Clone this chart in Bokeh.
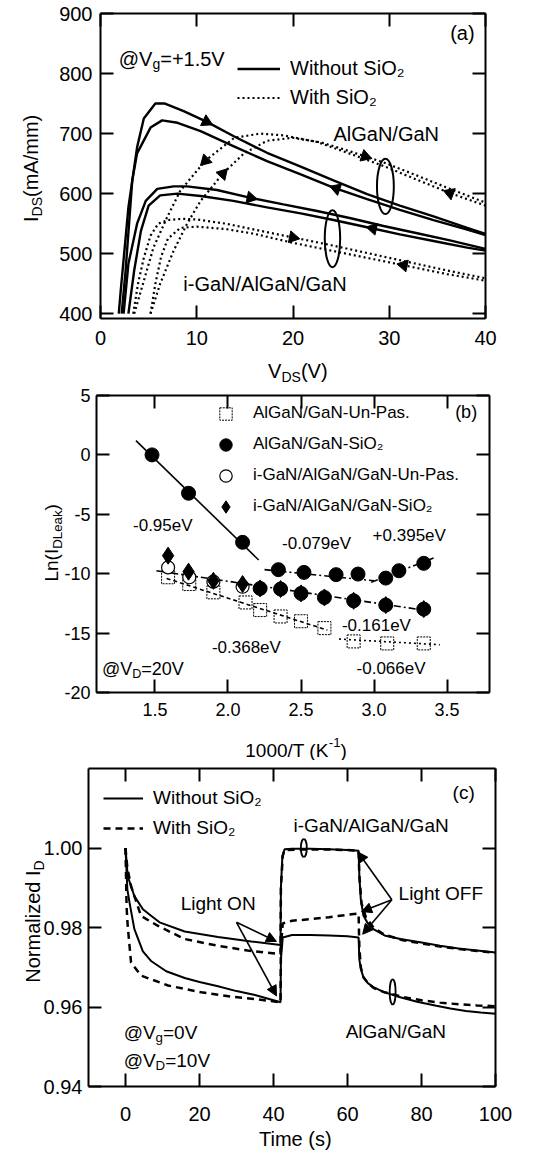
import numpy as np
from bokeh.plotting import figure
from bokeh.layouts import column
from bokeh.models import (Range1d, LinearAxis, FixedTicker, Label, Legend, LegendItem,
                          Arrow, NormalHead, CustomJSTickFormatter, NumeralTickFormatter,
                          ColumnDataSource)
from bokeh.embed import file_html
from bokeh.resources import INLINE

FONT = "Liberation Sans"

# ---------------- data: panel (a) I-V curves ----------------
vds_algan_wo_up = [1.9, 2.1, 2.9, 3.8, 4.5, 5.7, 6.7, 8.7, 11.1, 13.8, 17.3, 20.8, 24.2, 27.7, 31.1, 34.6, 38.1, 40.0]
ids_algan_wo_up = [400, 438, 577, 677, 725, 750, 750, 737, 719, 696, 668, 645, 622, 599, 580, 562, 543, 533]
vds_algan_wo_dn = [2.2, 2.6, 3.3, 3.8, 5.2, 6.4, 8.0, 10.4, 13.8, 17.3, 20.8, 24.2, 27.7, 31.1, 34.6, 38.1, 40.0]
ids_algan_wo_dn = [400, 470, 622, 667, 710, 722, 718, 704, 679, 654, 632, 610, 591, 573, 556, 540, 531]
vds_igan_wo_up = [2.4, 2.9, 3.8, 4.7, 5.9, 7.6, 9.0, 12.1, 15.6, 19.0, 22.5, 26.0, 29.4, 32.9, 36.3, 40.0]
ids_igan_wo_up = [400, 483, 550, 588, 608, 612, 612, 606, 593, 582, 571, 559, 546, 534, 522, 508]
vds_igan_wo_dn = [2.9, 3.5, 4.2, 5.0, 6.2, 8.0, 10.4, 13.8, 17.3, 20.8, 24.2, 27.7, 31.1, 34.6, 38.1, 40.0]
ids_igan_wo_dn = [400, 472, 538, 580, 597, 600, 596, 588, 577, 567, 556, 544, 532, 521, 510, 505]
vds_algan_w_fw = [5.2, 6.2, 7.6, 9.0, 10.4, 12.7, 14.9, 17.3, 20.0, 23.0, 26.0, 29.4, 32.9, 36.3, 40.0]
ids_algan_w_fw = [400, 450, 505, 550, 588, 633, 667, 688, 693, 685, 670, 652, 630, 608, 585]
vds_algan_w_rv = [3.5, 4.2, 5.5, 6.9, 8.3, 10.9, 13.9, 16.6, 19.0, 22.5, 26.0, 29.4, 32.9, 36.3, 40.0]
ids_algan_w_rv = [400, 438, 510, 560, 605, 655, 693, 700, 697, 686, 666, 646, 623, 601, 580]
vds_igan_w_up = [3.4, 3.9, 4.5, 5.2, 6.0, 7.0, 8.5, 10.0, 13.0, 16.0, 20.0, 24.0, 28.0, 32.0, 36.0, 40.0]
ids_igan_w_up = [400, 450, 493, 530, 550, 556, 558, 557, 550, 540, 527, 514, 500, 486, 472, 459]
vds_igan_w_dn = [5.2, 5.7, 6.3, 7.0, 8.3, 10.0, 13.0, 16.0, 20.0, 24.0, 28.0, 32.0, 36.0, 40.0]
ids_igan_w_dn = [400, 450, 495, 525, 543, 545, 541, 533, 518, 505, 492, 479, 466, 455]

# sweep-direction arrows on the curves (curve name, V_DS position, direction)
arrow_a_curve = ["algan_wo_up", "algan_wo_dn", "igan_wo_up", "igan_wo_dn", "algan_w_fw",
                 "algan_w_fw", "algan_w_rv", "algan_w_rv", "igan_w_up", "igan_w_dn"]
arrow_a_vds = [11.0, 24.5, 15.6, 28.3, 12.7, 27.5, 36.3, 10.9, 20.0, 31.5]
arrow_a_dir = [1, -1, 1, -1, 1, 1, -1, -1, 1, -1]
ell_a_x = [29.6, 24.1]
ell_a_y = [612, 525]
ell_a_w = [1.75, 1.6]
ell_a_h = [92, 95]

# ---------------- data: panel (b) Arrhenius ----------------
invT_algan_unpas = [1.59, 1.735, 1.90, 2.12, 2.22, 2.36, 2.50, 2.66, 2.86, 3.09, 3.34]
ln_algan_unpas = [-10.3, -10.87, -11.57, -12.42, -13.06, -13.6, -14.0, -14.58, -15.7, -15.87, -15.87]
invT_algan_sio2 = [1.48, 1.73, 2.10, 2.345, 2.52, 2.74, 2.89, 3.08, 3.17, 3.34]
ln_algan_sio2 = [0.0, -3.23, -7.36, -9.66, -9.89, -10.08, -10.03, -10.37, -9.75, -9.13]
invT_igan_unpas = [1.59, 1.735, 1.90, 2.10]
ln_igan_unpas = [-9.47, -10.3, -10.67, -11.1]
invT_igan_sio2 = [1.59, 1.73, 1.90, 2.10, 2.22, 2.36, 2.50, 2.66, 2.86, 3.08, 3.34]
ln_igan_sio2 = [-8.48, -9.83, -10.6, -10.87, -11.24, -11.29, -11.66, -12.0, -12.28, -12.64, -12.98]

fit_labels = ["-0.95eV", "-0.079eV", "+0.395eV", "-0.161eV", "-0.368eV", "-0.066eV"]
fit_x0 = [1.37, 2.25, 2.98, 1.51, 1.58, 2.76]
fit_x1 = [2.21, 3.00, 3.42, 3.37, 2.68, 3.45]
fit_y0 = [1.2, -9.66, -10.73, -9.75, -10.4, -15.5]
fit_y1 = [-8.85, -10.6, -8.62, -13.12, -14.75, -15.98]

# ---------------- data: panel (c) transients ----------------
t_igan_wo = [0, 0.6, 2.4, 4.7, 7.0, 9.2, 16, 25, 34, 41.9, 42.0, 42.4, 43, 45, 50, 55, 60, 63.0,
             63.2, 63.6, 64.3, 65.5, 67, 70, 74.3, 80, 85, 90, 95, 100]
n_igan_wo = [1.000, 0.9929, 0.9879, 0.9846, 0.9829, 0.9813, 0.9790, 0.9776, 0.9765, 0.9756,
             0.9900, 0.9980, 0.9997, 0.9998, 0.9998, 0.9997, 0.9995, 0.9993,
             0.9930, 0.9870, 0.9830, 0.9810, 0.9796, 0.9780, 0.9771, 0.9762, 0.9754, 0.9747, 0.9742, 0.9737]
t_algan_wo = [0, 0.5, 1.1, 2.4, 4.7, 7.0, 11, 16, 20, 25, 30, 35, 41.9, 42.0, 42.5, 45, 50, 55, 60, 63.0,
              63.2, 63.6, 64.3, 65.5, 67, 69.7, 74, 78.8, 84, 87.8, 92, 96, 100]
n_algan_wo = [1.000, 0.9896, 0.9862, 0.9796, 0.9740, 0.9715, 0.9690, 0.9673, 0.9663, 0.9652,
              0.9640, 0.9630, 0.9612, 0.9720, 0.9775, 0.9781, 0.9781, 0.9780, 0.9778, 0.9775,
              0.9720, 0.9696, 0.9675, 0.9660, 0.9650, 0.9638, 0.9625, 0.9613, 0.9603, 0.9596,
              0.9590, 0.9586, 0.9583]
t_igan_w = [0, 0.5, 1.5, 4.2, 8.8, 16, 25, 33, 41.9, 42.0, 42.5, 43, 48, 55, 60, 63.0,
            63.2, 63.8, 65, 67, 70, 75, 80, 85, 90, 95, 100]
n_igan_w = [1.000, 0.9950, 0.9904, 0.9829, 0.9804, 0.9771, 0.9754, 0.9742, 0.9733,
            0.9900, 0.9980, 0.9995, 0.9996, 0.9996, 0.9995, 0.9993,
            0.9930, 0.9860, 0.9825, 0.9800, 0.9782, 0.9768, 0.9760, 0.9752, 0.9746, 0.9741, 0.9736]
t_algan_w = [0, 0.3, 0.6, 1.5, 4.2, 11.5, 20.5, 29.5, 35, 41.9, 42.0, 42.5, 45, 50, 55, 60, 63.0,
             63.2, 63.6, 64.3, 65.5, 67, 70, 75, 80, 85, 90, 95, 100]
n_algan_w = [1.000, 0.9850, 0.9804, 0.9712, 0.9679, 0.9654, 0.9637, 0.9625, 0.9620, 0.9612,
             0.9750, 0.9810, 0.9817, 0.9821, 0.9826, 0.9832, 0.9835,
             0.9750, 0.9700, 0.9675, 0.9660, 0.9648, 0.9637, 0.9625, 0.9617, 0.9611, 0.9607, 0.9604, 0.9602]

light_on_x0 = [30.0, 30.0]
light_on_y0 = [0.9813, 0.9813]
light_on_x1 = [40.8, 40.8]
light_on_y1 = [0.9765, 0.9628]
light_off_x0 = [72.0, 72.0, 72.0]
light_off_y0 = [0.987, 0.987, 0.987]
light_off_x1 = [62.8, 63.8, 64.1]
light_off_y1 = [0.999, 0.984, 0.9783]
ell_c_x = [48.2, 72.2]
ell_c_y = [1.0, 0.9638]
ell_c_w = [1.6, 1.6]
ell_c_h = [0.0045, 0.0063]

# ---------------- helpers ----------------
AW = {' ': 0.278, '(': 0.333, ')': 0.333, '+': 0.584, ',': 0.278, '-': 0.333, '.': 0.278, '/': 0.278,
      '=': 0.584, '@': 1.015, 'A': 0.667, 'D': 0.722, 'G': 0.778, 'I': 0.278, 'K': 0.667, 'L': 0.556,
      'N': 0.722, 'O': 0.778, 'S': 0.667, 'T': 0.611, 'V': 0.667, 'W': 0.944, 'a': 0.556, 'd': 0.556,
      'e': 0.556, 'g': 0.556, 'h': 0.556, 'i': 0.222, 'k': 0.5, 'l': 0.222, 'm': 0.833, 'n': 0.556,
      'o': 0.556, 'r': 0.333, 's': 0.5, 't': 0.278, 'u': 0.556, 'z': 0.5}


def tw(s, size):
    return sum(AW.get(c, 0.556) for c in s) * size


def rich(p, x, y, parts, size, align="left", vertical=False):
    small = size * 0.7
    widths = [tw(t, size if m == "n" else small) for t, m in parts]
    total = sum(widths)
    off = {"left": 0.0, "center": -total / 2.0, "right": -total}[align]
    for (t, m), w in zip(parts, widths):
        fs = size if m == "n" else small
        shift = {"n": 0.0, "sub": -0.28 * size, "sup": 0.42 * size}[m]
        if vertical:
            xo, yo, ang = -shift, off, np.pi / 2
        else:
            xo, yo, ang = off, shift, 0.0
        p.add_layout(Label(x=x, y=y, x_offset=xo, y_offset=yo, text=t, angle=ang,
                           text_font=FONT, text_font_size=f"{fs:.1f}px",
                           text_baseline="alphabetic", text_align="left", text_color="black"))
        off += w


def txt(p, x, y, s, size, align="left", baseline="middle"):
    p.add_layout(Label(x=x, y=y, text=s, text_font=FONT, text_font_size=f"{size}px",
                       text_align=align, text_baseline=baseline, text_color="black"))


def make_fig(height, xbox, ybox, pxbox, pybox):
    """Frame fills the whole canvas; the plot box (xbox, ybox) sits at pixel
    columns pxbox and pixel rows pybox (from the top); axes are drawn at the box edges."""
    x0, x1 = xbox
    ytop, ybot = ybox
    px0, px1 = pxbox
    pyt, pyb = pybox
    sx = (x1 - x0) / (px1 - px0)
    sy = (ytop - ybot) / (pyb - pyt)
    xr = (x0 - px0 * sx, x1 + (539 - px1) * sx)
    yr = (ybot - (height - pyb) * sy, ytop + pyt * sy)
    p = figure(width=539, height=height, x_range=Range1d(*xr), y_range=Range1d(*yr),
               output_backend="svg", toolbar_location=None,
               x_axis_location=None, y_axis_location=None,
               min_border_left=0, min_border_right=0, min_border_top=0, min_border_bottom=0)
    p.title.visible = False
    p.grid.visible = False
    p.outline_line_color = None
    p.background_fill_color = None
    p.border_fill_color = None
    return p


def style_axes(p, xbox, ybox, xticks, yticks, xfmt, yfmt, fs, xstand, ystand):
    x0, x1 = xbox
    ytop, ybot = ybox
    bx = LinearAxis(fixed_location=ybot, bounds=(x0, x1))
    tx = LinearAxis(fixed_location=ytop, bounds=(x0, x1))
    ly = LinearAxis(fixed_location=x0, bounds=(ybot, ytop))
    ry = LinearAxis(fixed_location=x1, bounds=(ybot, ytop))
    p.add_layout(bx, "below")
    p.add_layout(tx, "above")
    p.add_layout(ly, "left")
    p.add_layout(ry, "right")
    for ax, ticks in ((bx, xticks), (tx, xticks), (ly, yticks), (ry, yticks)):
        ax.ticker = FixedTicker(ticks=ticks)
        ax.major_tick_in = 13
        ax.major_tick_out = 0
        ax.minor_tick_in = 0
        ax.minor_tick_out = 0
        ax.axis_line_width = 2
        ax.major_tick_line_width = 2
        ax.axis_line_color = "black"
        ax.major_tick_line_color = "black"
    for ax in (tx, ry):
        ax.formatter = CustomJSTickFormatter(code="return ''")
        ax.major_label_text_font_size = "1px"
        ax.major_label_standoff = 0
    bx.formatter = xfmt
    ly.formatter = yfmt
    for ax, st in ((bx, xstand), (ly, ystand)):
        ax.major_label_text_font = FONT
        ax.major_label_text_font_size = f"{fs}px"
        ax.major_label_text_color = "black"
        ax.major_label_standoff = st


# ================= panel (a) =================  canvas rows 0..385
HA = 385
xbox_a, ybox_a = (0, 40), (900, 392)
pa = make_fig(HA, xbox_a, ybox_a, (100, 485), (13, 318))
style_axes(pa, xbox_a, ybox_a, [0, 10, 20, 30, 40], [400, 500, 600, 700, 800, 900],
           NumeralTickFormatter(format="0"), NumeralTickFormatter(format="0"), 20, 12, 8)

curves_a = {
    "algan_wo_up": (vds_algan_wo_up, ids_algan_wo_up),
    "algan_wo_dn": (vds_algan_wo_dn, ids_algan_wo_dn),
    "igan_wo_up": (vds_igan_wo_up, ids_igan_wo_up),
    "igan_wo_dn": (vds_igan_wo_dn, ids_igan_wo_dn),
    "algan_w_fw": (vds_algan_w_fw, ids_algan_w_fw),
    "algan_w_rv": (vds_algan_w_rv, ids_algan_w_rv),
    "igan_w_up": (vds_igan_w_up, ids_igan_w_up),
    "igan_w_dn": (vds_igan_w_dn, ids_igan_w_dn),
}
rend_a = {}
for name, (xv, yv) in curves_a.items():
    if "_wo_" in name:
        rend_a[name] = pa.line(xv, yv, line_color="black", line_width=2.4)
    else:
        rend_a[name] = pa.line(xv, yv, line_color="black", line_width=2.2, line_dash="2 3")

ppx = 385.0 / 40.0
ppy = 305.0 / 508.0
ax_, ay_, aang = [], [], []
for name, xv, d in zip(arrow_a_curve, arrow_a_vds, arrow_a_dir):
    cx, cy = curves_a[name]
    yv = float(np.interp(xv, cx, cy))
    dy = float(np.interp(xv + 0.5, cx, cy) - np.interp(xv - 0.5, cx, cy))
    theta = np.arctan2(d * dy * ppy, d * 1.0 * ppx)
    ax_.append(xv)
    ay_.append(yv)
    aang.append(theta - np.pi / 2)
pa.scatter(ax_, ay_, marker="triangle", size=12, angle=aang, fill_color="black", line_color="black")
pa.ellipse(x=ell_a_x, y=ell_a_y, width=ell_a_w, height=ell_a_h, fill_color=None,
           line_color="black", line_width=2)

leg_a = Legend(items=[LegendItem(label="Without SiO₂", renderers=[rend_a["algan_wo_up"]]),
                      LegendItem(label="With SiO₂", renderers=[rend_a["algan_w_fw"]])],
               location=(237, HA - 111.5), orientation="vertical", padding=0, margin=0, spacing=0,
               glyph_width=43, glyph_height=29, label_height=29, label_standoff=10,
               border_line_color=None, background_fill_alpha=0,
               label_text_font=FONT, label_text_font_size="20px", label_text_color="black")
pa.add_layout(leg_a)

rich(pa, 1.9, 825, [("@V", "n"), ("g", "sub"), ("=+1.5V", "n")], 20)
txt(pa, 37.6, 867, "(a)", 20, align="center")
txt(pa, 24.2, 699, "AlGaN/GaN", 20)
txt(pa, 8.6, 449, "i-GaN/AlGaN/GaN", 20)
rich(pa, -7.2, 642, [("I", "n"), ("DS", "sub"), ("(mA/mm)", "n")], 20, align="center", vertical=True)
rich(pa, 20.5, 304, [("V", "n"), ("DS", "sub"), ("(V)", "n")], 20, align="center")

# ================= panel (b) =================  canvas rows 385..760
HB = 375
xbox_b, ybox_b = (1.1, 3.79), (5, -20)
pb = make_fig(HB, xbox_b, ybox_b, (96, 489), (10, 307))
style_axes(pb, xbox_b, ybox_b, [1.5, 2.0, 2.5, 3.0, 3.5], [-20, -15, -10, -5, 0, 5],
           NumeralTickFormatter(format="0.0"), NumeralTickFormatter(format="0"), 18, 10, 6)

fit_dash = ["solid", "7 3 2 3", "7 3 2 3", "7 3 2 3", "4 3", "2 3"]
r_sq = pb.scatter(invT_algan_unpas, ln_algan_unpas, marker="square", size=13,
                  fill_color=None, line_color="black", line_width=1, line_dash="2 1")
for x0, x1, y0, y1, dsh in zip(fit_x0, fit_x1, fit_y0, fit_y1, fit_dash):
    pb.line([x0, x1], [y0, y1], line_color="black", line_width=1.6, line_dash=dsh)
r_oc = pb.scatter(invT_igan_unpas, ln_igan_unpas, marker="circle", size=13,
                  fill_color="white", line_color="black", line_width=1.2)
r_dm = pb.scatter(invT_igan_sio2, ln_igan_sio2, marker="diamond", size=17,
                  fill_color="black", line_color="black")
low_x = [x for x in invT_igan_sio2 if x > 2.15]
low_y = [y for x, y in zip(invT_igan_sio2, ln_igan_sio2) if x > 2.15]
pb.scatter(low_x, low_y, marker="circle", size=14, fill_color="black", line_color="black")
r_fc = pb.scatter(invT_algan_sio2, ln_algan_sio2, marker="circle", size=14,
                  fill_color="black", line_color="black")

leg_b = Legend(items=[LegendItem(label="AlGaN/GaN-Un-Pas.", renderers=[r_sq]),
                      LegendItem(label="AlGaN/GaN-SiO₂", renderers=[r_fc]),
                      LegendItem(label="i-GaN/AlGaN/GaN-Un-Pas.", renderers=[r_oc]),
                      LegendItem(label="i-GaN/AlGaN/GaN-SiO₂", renderers=[r_dm])],
               location=(210, 760 - 521.5), orientation="vertical", padding=0, margin=0, spacing=-4,
               glyph_width=31, glyph_height=31, label_height=31, label_standoff=12,
               border_line_color=None, background_fill_alpha=0,
               label_text_font=FONT, label_text_font_size="17px", label_text_color="black")
pb.add_layout(leg_b)

fit_lab_x = [1.35, 2.37, 2.99, 2.78, 1.89, 2.88]
fit_lab_y = [-5.94, -7.46, -6.8, -14.4, -16.2, -18.0]
for s, lx, ly in zip(fit_labels, fit_lab_x, fit_lab_y):
    txt(pb, lx, ly, s, 17)
rich(pb, 1.137, -18.0, [("@V", "n"), ("D", "sub"), ("=20V", "n")], 18)
txt(pb, 3.63, 3.57, "(b)", 18, align="center")
rich(pb, 0.795, -7.4, [("Ln(I", "n"), ("DLeak", "sub"), (")", "n")], 19, align="center", vertical=True)
rich(pb, 2.466, -24.85, [("1000/T (K", "n"), ("-1", "sup"), (")", "n")], 19, align="center")

# ================= panel (c) =================  canvas rows 760..1153
HC = 393
xbox_c, ybox_c = (-10, 100), (1.02, 0.94)
pc = make_fig(HC, xbox_c, ybox_c, (88, 495), (8, 326))
style_axes(pc, xbox_c, ybox_c, [0, 20, 40, 60, 80, 100], [0.94, 0.96, 0.98, 1.00],
           NumeralTickFormatter(format="0"), NumeralTickFormatter(format="0.00"), 20, 20, 6)

r_c_wo = pc.line(t_igan_wo, n_igan_wo, line_color="black", line_width=2)
pc.line(t_algan_wo, n_algan_wo, line_color="black", line_width=2)
r_c_w = pc.line(t_igan_w, n_igan_w, line_color="black", line_width=2.5, line_dash="7 5")
pc.line(t_algan_w, n_algan_w, line_color="black", line_width=2.5, line_dash="7 5")
pc.ellipse(x=ell_c_x, y=ell_c_y, width=ell_c_w, height=ell_c_h, fill_color=None,
           line_color="black", line_width=1.8)

src_on = ColumnDataSource(dict(x0=light_on_x0, y0=light_on_y0, x1=light_on_x1, y1=light_on_y1))
src_off = ColumnDataSource(dict(x0=light_off_x0, y0=light_off_y0, x1=light_off_x1, y1=light_off_y1))
for src in (src_on, src_off):
    pc.add_layout(Arrow(source=src, x_start="x0", y_start="y0", x_end="x1", y_end="y1",
                        line_color="black", line_width=1.6,
                        end=NormalHead(size=10, fill_color="black", line_color="black")))

leg_c = Legend(items=[LegendItem(label="Without SiO₂", renderers=[r_c_wo]),
                      LegendItem(label="With SiO₂", renderers=[r_c_w])],
               location=(103, 1153 - 843), orientation="vertical", padding=0, margin=0, spacing=0,
               glyph_width=40, glyph_height=30, label_height=30, label_standoff=10,
               border_line_color=None, background_fill_alpha=0,
               label_text_font=FONT, label_text_font_size="19px", label_text_color="black")
pc.add_layout(leg_c)

txt(pc, 91.4, 1.014, "(c)", 19, align="center")
txt(pc, 45.4, 1.0057, "i-GaN/AlGaN/GaN", 19)
txt(pc, 14.9, 0.986, "Light ON", 19)
txt(pc, 73.8, 0.9886, "Light OFF", 19)
txt(pc, 59.5, 0.9538, "AlGaN/GaN", 19)
rich(pc, -0.5, 0.9536, [("@V", "n"), ("g", "sub"), ("=0V", "n")], 19)
rich(pc, -0.5, 0.9465, [("@V", "n"), ("D", "sub"), ("=10V", "n")], 19)
rich(pc, -24.9, 0.9815, [("Normalized I", "n"), ("D", "sub")], 20, align="center", vertical=True)
txt(pc, 45.9, 0.9268, "Time (s)", 20, align="center", baseline="alphabetic")

layout = column(pa, pb, pc, spacing=0)
open("out.html", "w").write(file_html(layout, INLINE))
